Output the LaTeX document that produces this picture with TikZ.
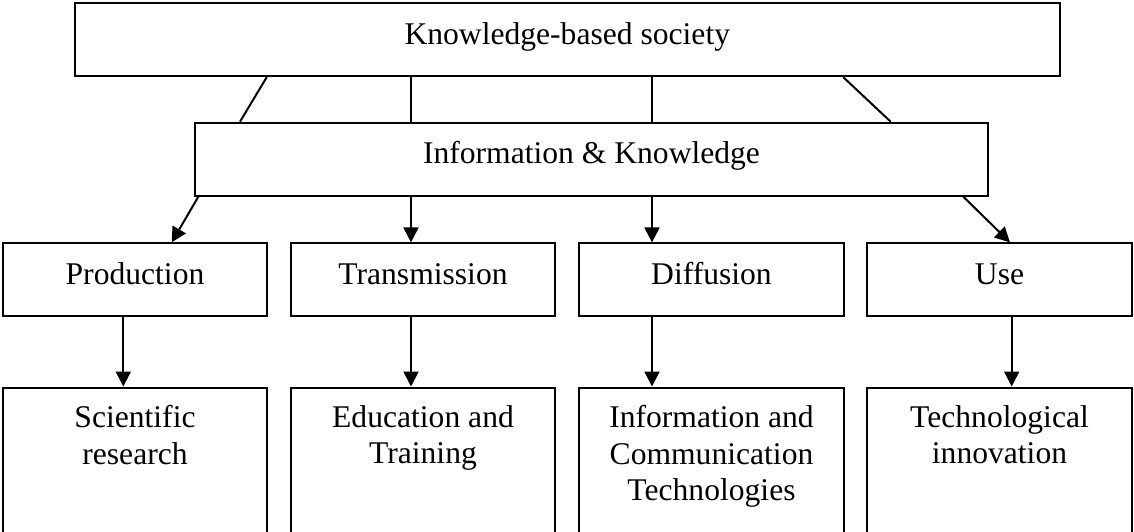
\documentclass[tikz,border=0pt]{standalone}
\usepackage{fontspec}
\setmainfont{Liberation Serif}
\usetikzlibrary{arrows.meta}
\begin{document}
\begin{tikzpicture}[x=0.5pt,y=-0.5pt,
  box/.style={draw, line width=1pt, rectangle, inner sep=0pt,
    font=\fontsize{15.8}{18.3}\selectfont, text height=10.5pt, text depth=6pt},
  hibox/.style={box, minimum height=36.5pt},
  midbox/.style={box, minimum width=132.3pt, minimum height=36.3pt},
  lowbox/.style={draw, line width=1pt, rectangle, inner sep=0pt,
    minimum width=132.3pt, minimum height=78.5pt},
  lbl/.style={font=\fontsize{15.8}{18.3}\selectfont, align=center, inner sep=0pt, anchor=north},
  conn/.style={line width=1pt},
  arr/.style={conn, -{Triangle[length=7.5pt,width=7.5pt]}}]
\useasboundingbox (0,0) rectangle (1134,531);
\clip (0,0) rectangle (1134,531);
% boxes
\node[hibox, minimum width=492.8pt] (top) at (567.3,39.7) {Knowledge-based society};
\node[hibox, minimum width=396.5pt] (info) at (591.5,159.2) {Information \& Knowledge};
\node[midbox] (prod) at (135,279.7) {Production};
\node[midbox] (trans) at (423,279.7) {Transmission};
\node[midbox] (diff) at (711.5,279.7) {Diffusion};
\node[midbox] (use) at (999.5,279.7) {Use};
\node[lowbox] (sci) at (135,466) {};
\node[lowbox] (edu) at (423,466) {};
\node[lowbox] (ict) at (711.5,466) {};
\node[lowbox] (tech) at (999.5,466) {};
\node[lbl] (scit) at (135,405) {Scientific\\research};
\node[lbl] (edut) at (423,405) {Education and\\Training};
\node[lbl] (ictt) at (711.5,405) {Information and\\Communication\\Technologies};
\node[lbl] (techt) at (999.5,405) {Technological\\innovation};
% connector x positions
\coordinate (ta) at (266.7,0);
\coordinate (tb) at (240,0);
\coordinate (tc) at (411,0);
\coordinate (td) at (652,0);
\coordinate (te) at (843.3,0);
\coordinate (tf) at (890.7,0);
\coordinate (ma) at (198.3,0);
\coordinate (mb) at (171.7,0);
\coordinate (mc) at (963.3,0);
\coordinate (md) at (1010,0);
\coordinate (la) at (123.3,0);
\coordinate (lb) at (1011.7,0);
% top to info
\draw[conn] (top.south -| ta) -- (info.north -| tb);
\draw[conn] (top.south -| tc) -- (info.north -| tc);
\draw[conn] (top.south -| td) -- (info.north -| td);
\draw[conn] (top.south -| te) -- (info.north -| tf);
% info to row 3
\draw[arr] (info.south -| ma) -- (prod.north -| mb);
\draw[arr] (info.south -| tc) -- (trans.north -| tc);
\draw[arr] (info.south -| td) -- (diff.north -| td);
\draw[arr] (info.south -| mc) -- (use.north -| md);
% row 3 to row 4
\draw[arr] (prod.south -| la) -- (sci.north -| la);
\draw[arr] (trans.south -| tc) -- (edu.north -| tc);
\draw[arr] (diff.south -| td) -- (ict.north -| td);
\draw[arr] (use.south -| lb) -- (tech.north -| lb);
\end{tikzpicture}
\end{document}
